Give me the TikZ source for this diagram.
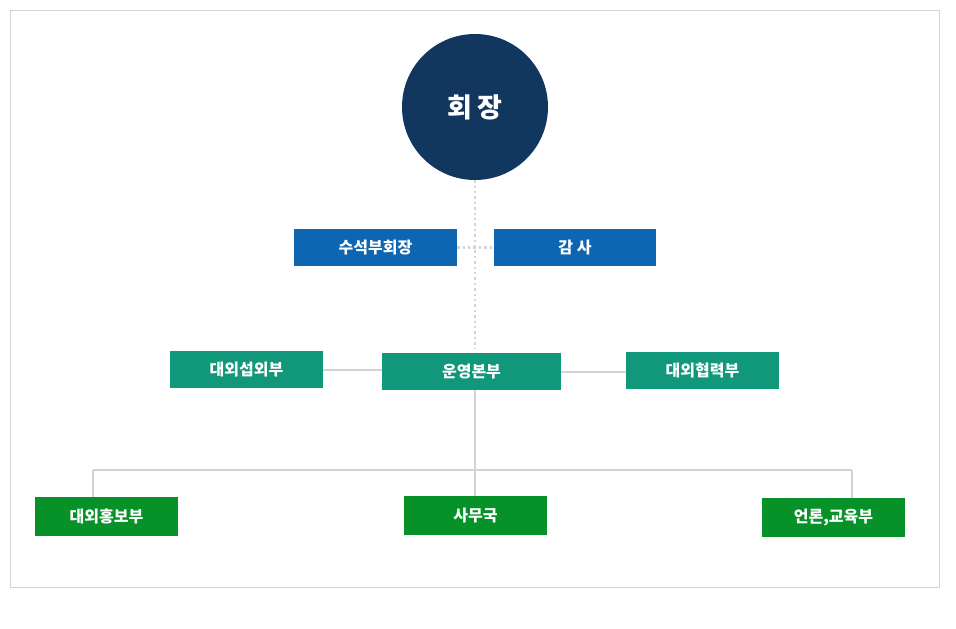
\documentclass[tikz,border=0pt]{standalone}
\usepackage{fontspec}
\setmainfont{Noto Sans CJK KR}
\newfontfamily\kr{Noto Sans CJK KR}
\definecolor{navy}{HTML}{12375F}
\definecolor{bluebox}{HTML}{0E65B1}
\definecolor{tealbox}{HTML}{11987A}
\definecolor{greenbox}{HTML}{069228}
\definecolor{lineg}{HTML}{D3D3D3}
\begin{document}
\begin{tikzpicture}[x=1pt,y=-1pt,
  box/.style={draw=none,minimum height=37pt,inner sep=0pt,text=white,font=\kr\bfseries\fontsize{16}{16}\selectfont},
  conn/.style={draw=lineg,line width=2pt},
  dots/.style={draw=lineg,line width=2.4pt,dash pattern=on 2.4pt off 3pt}]
\useasboundingbox (0,0) rectangle (956,629);
\draw[draw=lineg,line width=0.8pt] (10,10) rectangle (939,587);
\node[circle,fill=navy,minimum size=146pt,inner sep=0pt,text=white,font=\kr\bfseries\fontsize{27}{27}\selectfont] (ceo) at (475,107) {회\hspace{5pt}장};
\node[box,fill=bluebox,minimum width=163pt] (vp) at (375.5,247.5) {수석부회장};
\node[box,fill=bluebox,minimum width=162pt] (aud) at (575,247.5) {감 사};
\node[box,fill=tealbox,minimum width=153pt] (ext) at (246.5,369.5) {대외섭외부};
\node[box,fill=tealbox,minimum width=179pt] (ops) at (471.5,371.5) {운영본부};
\node[box,fill=tealbox,minimum width=153pt] (coop) at (702.5,370.5) {대외협력부};
\node[box,fill=greenbox,minimum width=143pt,minimum height=39pt] (pr) at (106.5,516.5) {대외홍보부};
\node[box,fill=greenbox,minimum width=143pt,minimum height=39pt] (sec) at (475.5,515.5) {사무국};
\node[box,fill=greenbox,minimum width=143pt,minimum height=39pt] (edu) at (833.5,517.5) {언론,교육부};
\coordinate (dotend) at (475,348);
\coordinate (hub) at (475,470);
\coordinate (lc) at (93,470);
\coordinate (rc) at (852,470);
\draw[dots] (ceo.south) -- (dotend);
\draw[dots] (vp.east) -- (aud.west);
\draw[conn] (ext.east) -- (ext.east -| ops.west);
\draw[conn] (ops.east) -- (ops.east -| coop.west);
\draw[conn] (hub |- ops.south) -- (hub);
\draw[conn] (lc) -- (rc);
\draw[conn] (lc) -- (lc |- pr.north);
\draw[conn] (hub) -- (hub |- sec.north);
\draw[conn] (rc) -- (rc |- edu.north);
\end{tikzpicture}
\end{document}
